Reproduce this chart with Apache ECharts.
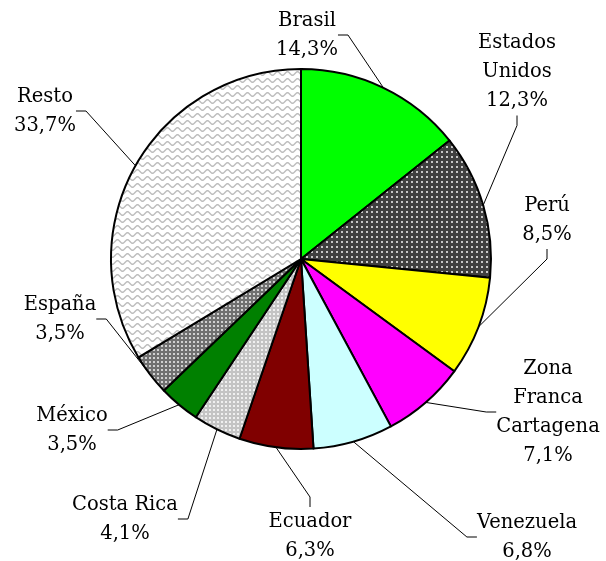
<!DOCTYPE html>
<html>
<head>
<meta charset="utf-8">
<script src="https://cdn.jsdelivr.net/npm/echarts@6/dist/echarts.min.js"></script>
<style>
html,body{margin:0;padding:0;background:#fff;}
#chart{width:606px;height:561px;}
</style>
</head>
<body>
<div id="chart"></div>
<script>
// Data
const categories = ['Brasil','Estados Unidos','Perú','Zona Franca Cartagena','Venezuela','Ecuador','Costa Rica','México','España','Resto'];
const shares = [14.3, 12.3, 8.5, 7.1, 6.8, 6.3, 4.1, 3.5, 3.5, 33.7];
const labelNames = ['Brasil','Estados\nUnidos','Perú','Zona\nFranca\nCartagena','Venezuela','Ecuador','Costa Rica','México','España','Resto'];

// Label placement (style)
const labelPos = [[307,35],[517,72],[547,220],[548,412],[527,537],[310,536],[125,519],[72,430],[60,319],[45,111]];

function makePattern(w, h, bg, draw) {
  const c = document.createElement('canvas');
  c.width = w; c.height = h;
  const ctx = c.getContext('2d');
  if (bg) { ctx.fillStyle = bg; ctx.fillRect(0,0,w,h); }
  draw(ctx);
  return { image: c, repeat: 'repeat' };
}
const dotsDark = makePattern(5, 5, '#404040', ctx => { ctx.fillStyle = '#c8c8c8'; ctx.fillRect(1,1,2,2); });
const dotsLight = makePattern(4, 4, '#c4c4c4', ctx => { ctx.fillStyle = '#f0f0f0'; ctx.fillRect(1,1,2,2); });
const checkGray = makePattern(4, 4, '#707070', ctx => { ctx.fillStyle = '#d0d0d0'; ctx.fillRect(1,1,2,2); });
const wave = makePattern(10, 7, '#ffffff', ctx => {
  ctx.strokeStyle = '#bdbdbd'; ctx.lineWidth = 1.4;
  ctx.beginPath();
  for (let x = -1; x <= 11; x += 0.5) {
    const y = 3.5 + 1.8 * Math.sin(x / 10 * 2 * Math.PI);
    if (x === -1) ctx.moveTo(x, y); else ctx.lineTo(x, y);
  }
  ctx.stroke();
});
const fills = ['#00ff00', dotsDark, '#ffff00', '#ff00ff', '#ccffff', '#800000', dotsLight, '#008000', checkGray, wave];

const chart = echarts.init(document.getElementById('chart'), null, {renderer:'canvas'});
chart.setOption({
  animation: false,
  backgroundColor: '#ffffff',
  series: [{
    type: 'pie',
    center: [301, 259],
    radius: 190,
    startAngle: 90,
    clockwise: true,
    avoidLabelOverlap: false,
    itemStyle: { borderColor: '#000', borderWidth: 2 },
    label: {
      show: true,
      fontFamily: 'DejaVu Serif',
      fontSize: 19.5,
      lineHeight: 29,
      color: '#000',
      align: 'center',
      formatter: p => labelNames[p.dataIndex] + '\n' + p.value.toFixed(1).replace('.', ',') + '%'
    },
    labelLine: { show: true, length: 10, length2: 10, lineStyle: { color: '#000', width: 1 } },
    labelLayout: p => {
      const q = labelPos[p.dataIndex];
      return { x: q[0], y: q[1], align: 'center', verticalAlign: 'middle' };
    },
    data: categories.map((c, i) => ({ name: c, value: shares[i], itemStyle: { color: fills[i] } }))
  }]
});
</script>
</body>
</html>
